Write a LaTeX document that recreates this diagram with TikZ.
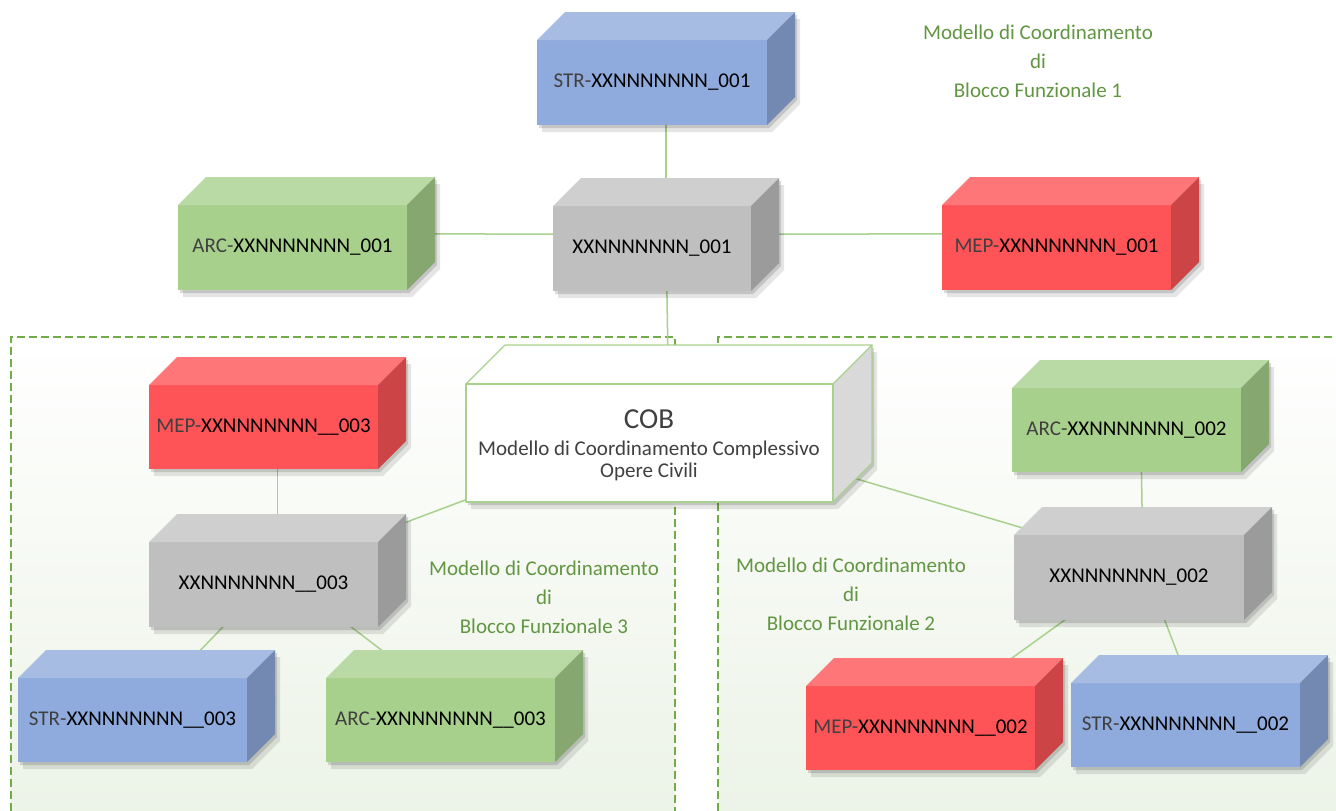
\documentclass[tikz,border=0pt]{standalone}
\usepackage{fontspec}
\setmainfont{Carlito}
\definecolor{bluefront}{RGB}{143,170,220}
\definecolor{bluetop}{RGB}{167,188,227}
\definecolor{blueside}{RGB}{115,137,177}
\definecolor{greenfront}{RGB}{168,208,141}
\definecolor{greentop}{RGB}{186,218,165}
\definecolor{greenside}{RGB}{135,167,113}
\definecolor{redfront}{RGB}{255,84,87}
\definecolor{redtop}{RGB}{255,118,120}
\definecolor{redside}{RGB}{204,68,70}
\definecolor{grayfront}{RGB}{191,191,191}
\definecolor{graytop}{RGB}{207,207,207}
\definecolor{grayside}{RGB}{155,155,155}
\definecolor{whitefront}{RGB}{255,255,255}
\definecolor{whitetop}{RGB}{255,255,255}
\definecolor{whiteside}{RGB}{217,217,217}
\definecolor{prefixgray}{RGB}{64,64,64}
\definecolor{linkgreen}{RGB}{169,209,142}
\definecolor{dashgreen}{RGB}{112,173,71}
\definecolor{labelgreen}{RGB}{98,150,66}
\definecolor{panelgreen}{RGB}{236,243,231}
\pgfdeclarelayer{panel}
\pgfdeclarelayer{conn}
\pgfsetlayers{panel,conn,main}
\tikzset{
  boxtext/.style={inner sep=0pt, align=center, font=\fontsize{21}{23}\selectfont, text=black},
  grouplabel/.style={inner sep=0pt, align=center, font=\fontsize{21}{29}\selectfont, text=labelgreen},
  link/.style={draw=linkgreen, line width=1.5pt},
  dashline/.style={draw=dashgreen, line width=2.4pt, dash pattern=on 8pt off 4pt},
  anchorbox/.style={inner sep=0pt, outer sep=0pt}
}
% #1 name, #2 x left, #3 y top (back), #4 x right (back), #5 y bottom, #6 depth, #7 colour, #8 text
\newcommand\cubebox[8]{%
  \fill[black,opacity=0.10] ({#2+5},{#3+#6+7}) -- ({#2+#6+5},{#3+7}) -- ({#4+5},{#3+7}) -- ({#4+5},{#5-#6+7}) -- ({#4-#6+5},{#5+7}) -- ({#2+5},{#5+7}) -- cycle;
  \fill[black,opacity=0.14] ({#2+2},{#3+#6+3}) -- ({#2+#6+2},{#3+3}) -- ({#4+2},{#3+3}) -- ({#4+2},{#5-#6+3}) -- ({#4-#6+2},{#5+3}) -- ({#2+2},{#5+3}) -- cycle;
  \fill[#7front] (#2,{#3+#6}) rectangle ({#4-#6},#5);
  \fill[#7top] (#2,{#3+#6}) -- ({#2+#6},#3) -- (#4,#3) -- ({#4-#6},{#3+#6}) -- cycle;
  \fill[#7side] ({#4-#6},{#3+#6}) -- (#4,#3) -- (#4,{#5-#6}) -- ({#4-#6},#5) -- cycle;
  \node[anchorbox, minimum width={(#4-#2)*1pt}, minimum height={(#5-#3)*1pt}] (#1) at ({(#2+#4)/2},{(#3+#5)/2}) {};
  \node[boxtext] (#1-t) at ({(#2+#4-#6)/2},{(#3+#6+#5)/2}) {#8};
}
\newcommand\pre[1]{\textcolor{prefixgray}{#1}}
\begin{document}
\begin{tikzpicture}[x=1pt,y=-1pt]
\useasboundingbox (0,0) rectangle (1336,811);
\begin{pgfonlayer}{panel}
  \fill[white] (0,0) rectangle (1336,811);
  \shade[top color=white, bottom color=panelgreen] (11,337) rectangle (675,811);
  \shade[top color=white, bottom color=panelgreen] (718,337) rectangle (1336,811);
  \draw[dashline] (11,811) -- (11,337) -- (675,337) -- (675,811);
  \draw[dashline] (718,811) -- (718,337) -- (1336,337);
\end{pgfonlayer}

% top group
\cubebox{str1}{537}{12}{795}{125}{28}{blue}{\pre{STR-}XXNNNNNNN\_001}
\cubebox{g1}{553}{178}{779}{291}{28}{gray}{XXNNNNNNN\_001}
\cubebox{arc1}{178}{177}{435}{290}{28}{green}{\pre{ARC-}XXNNNNNNN\_001}
\cubebox{mep1}{942}{177}{1199}{290}{28}{red}{\pre{MEP-}XXNNNNNNN\_001}

% COB
\cubebox{cob}{466}{345}{872}{502}{39}{white}{}
\draw[draw=linkgreen, line width=1.2pt, line join=round] (466,384) rectangle (833,502);
\draw[draw=linkgreen, line width=1.2pt, line join=round] (466,384) -- (505,345) -- (872,345) -- (833,384);
\draw[draw=linkgreen, line width=1.2pt, line join=round] (872,345) -- (872,463) -- (833,502);
\node[inner sep=0pt, text=prefixgray, font=\fontsize{29}{30}\selectfont] (cob-title) at (649,419) {COB};
\node[inner sep=0pt, align=center, text=prefixgray, font=\fontsize{21}{22}\selectfont] (cob-sub) at (649,461) {Modello di Coordinamento Complessivo\\Opere Civili};

% group 3
\cubebox{mep3}{149}{357}{406}{469}{28}{red}{\pre{MEP-}XXNNNNNNN\_\_003}
\cubebox{g3}{149}{514}{406}{627}{28}{gray}{XXNNNNNNN\_\_003}
\cubebox{str3}{18}{650}{275}{762}{28}{blue}{\pre{STR-}XXNNNNNNN\_\_003}
\cubebox{arc3}{326}{650}{583}{762}{28}{green}{\pre{ARC-}XXNNNNNNN\_\_003}

% group 2
\cubebox{arc2}{1012}{360}{1269}{472}{28}{green}{\pre{ARC-}XXNNNNNNN\_002}
\cubebox{g2}{1014}{507}{1272}{620}{28}{gray}{XXNNNNNNN\_002}
\cubebox{mep2}{806}{658}{1063}{770}{28}{red}{\pre{MEP-}XXNNNNNNN\_\_002}
\cubebox{str2}{1071}{655}{1328}{767}{28}{blue}{\pre{STR-}XXNNNNNNN\_\_002}

% labels
\node[grouplabel] (lab1) at (1038,61) {Modello di Coordinamento\\di\\Blocco Funzionale 1};
\node[grouplabel] (lab3) at (544,597) {Modello di Coordinamento\\di\\Blocco Funzionale 3};
\node[grouplabel] (lab2) at (851,594) {Modello di Coordinamento\\di\\Blocco Funzionale 2};

\begin{pgfonlayer}{conn}
  \draw[link] (str1.center) -- (g1.center);
  \draw[link] (arc1.center) -- (g1.center);
  \draw[link] (g1.center) -- (mep1.center);
  \draw[link] (g1.center) -- (cob.center);
  \draw[link] (mep3.center) -- (g3.center);
  \draw[link] (g3.center) -- (cob.center);
  \draw[link] (g3.center) -- (str3.center);
  \draw[link] (g3.center) -- (arc3.center);
  \draw[link] (cob.center) -- (g2.center);
  \draw[link] (arc2.center) -- (g2.center);
  \draw[link] (g2.center) -- (mep2.center);
  \draw[link] (g2.center) -- (str2.center);
\end{pgfonlayer}
\end{tikzpicture}
\end{document}
